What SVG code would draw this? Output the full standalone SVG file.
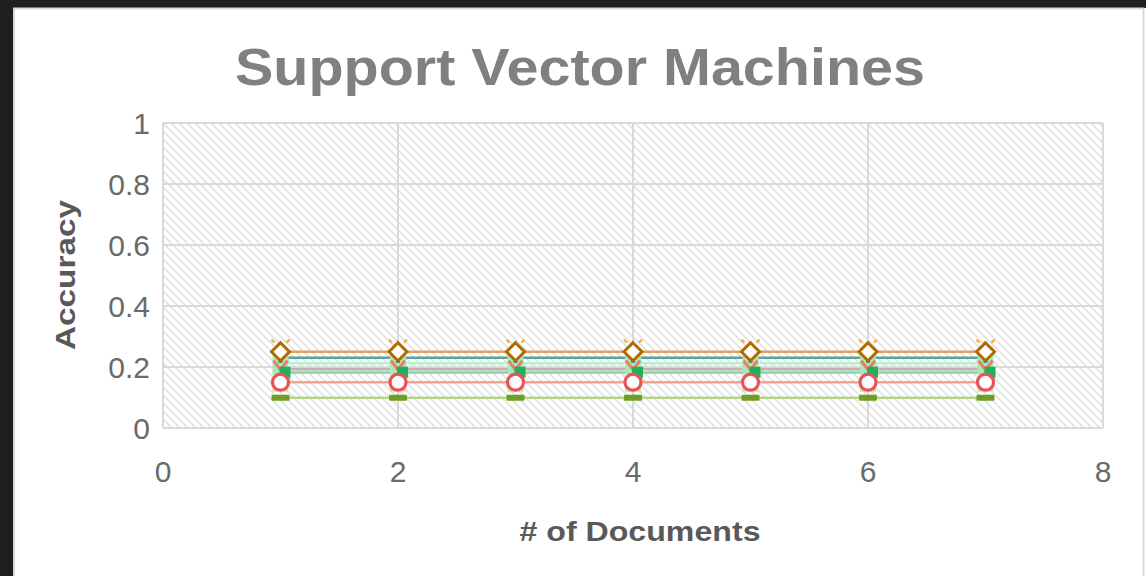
<svg xmlns="http://www.w3.org/2000/svg" width="1146" height="576" viewBox="0 0 1146 576">
<style>
.tick{font-family:"Liberation Sans",Arial,sans-serif;font-size:30px;fill:#6a6a6a;font-weight:300}
.ttl{font-family:"Liberation Sans",Arial,sans-serif;font-weight:bold;font-size:52px;fill:#808080}
.axt{font-family:"Liberation Sans",Arial,sans-serif;font-weight:bold;font-size:27px;fill:#595959}
.grid{stroke:#d9d9d9;stroke-width:2;fill:none}
.ln{stroke-width:2.5;fill:none}
</style>
<defs>
<pattern id="hatch" x="0" y="0" width="8" height="8" patternUnits="userSpaceOnUse">
<rect width="8" height="8" fill="#ffffff"/>
<path d="M0,0 L8,8 M-2,6 L2,10 M6,-2 L10,2" stroke="#e2e2e2" stroke-width="1.6"/>
</pattern>
<g id="mk">
<rect x="-8" y="-3" width="16" height="26" fill="#a8e8bc"/>
<rect x="-8" y="24" width="16" height="16" fill="#c9e88e"/>
<path d="M-9,-12 L-6,-9 M9,-12 L6,-9" stroke="#f2b04f" stroke-width="2.5"/>
<rect x="-2" y="3" width="4" height="8" fill="#1f7f78"/>
<path d="M-7,9 L0,18 L7,9" stroke="#f07a62" stroke-width="3" fill="none"/>
<rect x="-1" y="15" width="11" height="11" fill="#1fb15a"/>
<path d="M0,-9 L9,0 L0,9 L-9,0 Z" fill="#ffffff" stroke="#b06a00" stroke-width="3"/>
<circle cx="0" cy="30.5" r="8" fill="#ffffff" stroke="#e8535a" stroke-width="3.2"/>
<rect x="-9" y="43" width="18" height="6" rx="1" fill="#6e9e24"/>
</g>
</defs>
<rect width="1146" height="576" fill="#1e1e1e"/>
<rect x="14" y="8" width="1132" height="568" fill="#ffffff"/>
<path d="M14,576 V8.5 H1143.5 V576" fill="none" stroke="#d9d9d9" stroke-width="2"/>
<g id="title"><text class="ttl" x="580" y="85" text-anchor="middle" textLength="690" lengthAdjust="spacingAndGlyphs">Support Vector Machines</text></g>
<g id="plot">
<rect x="163" y="123" width="940" height="305" fill="url(#hatch)"/>
<path class="grid" d="M163,123 H1103 M163,184 H1103 M163,245 H1103 M163,306 H1103 M163,367 H1103 M163,428 H1103 M163,123 V428 M398,123 V428 M633,123 V428 M868,123 V428 M1103,123 V428"/>
</g>
<g id="yticks">
<text class="tick" x="150" y="134" text-anchor="end">1</text>
<text class="tick" x="150" y="195" text-anchor="end">0.8</text>
<text class="tick" x="150" y="256" text-anchor="end">0.6</text>
<text class="tick" x="150" y="317" text-anchor="end">0.4</text>
<text class="tick" x="150" y="378" text-anchor="end">0.2</text>
<text class="tick" x="150" y="439" text-anchor="end">0</text>
</g>
<g id="xticks">
<text class="tick" x="163" y="482" text-anchor="middle">0</text>
<text class="tick" x="398" y="482" text-anchor="middle">2</text>
<text class="tick" x="633" y="482" text-anchor="middle">4</text>
<text class="tick" x="868" y="482" text-anchor="middle">6</text>
<text class="tick" x="1103" y="482" text-anchor="middle">8</text>
</g>
<g id="xlabel"><text class="axt" x="640" y="541" text-anchor="middle" textLength="241" lengthAdjust="spacingAndGlyphs"># of Documents</text></g>
<g id="ylabel"><text class="axt" transform="translate(75,275) rotate(-90)" text-anchor="middle" textLength="150" lengthAdjust="spacingAndGlyphs">Accuracy</text></g>
<g id="connectors">
<path class="ln" stroke="#b9d391" d="M280.5,397.7 H985.5"/>
<path class="ln" stroke="#f3a58b" d="M280.5,382.3 H985.5"/>
<path class="ln" stroke="#8ad3a2" d="M280.5,372.5 H985.5"/>
<path class="ln" stroke="#bdb5ad" d="M280.5,369.3 H985.5"/>
<path class="ln" stroke="#b8f1ca" d="M280.5,363.3 H985.5"/>
<path class="ln" stroke="#5aa29d" d="M280.5,357.7 H985.5"/>
<path class="ln" stroke="#dca45e" d="M280.5,351.7 H985.5"/>
</g>
<g id="markers">
<use href="#mk" x="280.5" y="351.7"/>
<use href="#mk" x="398" y="351.7"/>
<use href="#mk" x="515.5" y="351.7"/>
<use href="#mk" x="633" y="351.7"/>
<use href="#mk" x="750.5" y="351.7"/>
<use href="#mk" x="868" y="351.7"/>
<use href="#mk" x="985.5" y="351.7"/>
</g>
</svg>
